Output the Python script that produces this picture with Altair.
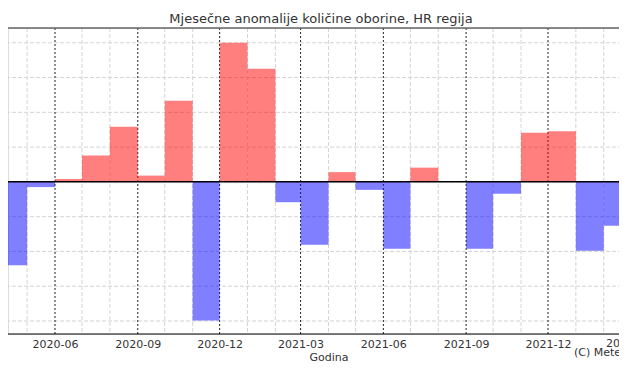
import altair as alt
import numpy as np
import pandas as pd

# Monthly precipitation anomalies (y labels are cropped in the reference)
months = ["2020-04", "2020-05", "2020-06", "2020-07", "2020-08", "2020-09", "2020-10",
          "2020-11", "2020-12", "2021-01", "2021-02", "2021-03", "2021-04", "2021-05",
          "2021-06", "2021-07", "2021-08", "2021-09", "2021-10", "2021-11", "2021-12",
          "2022-01", "2022-02"]
anomaly = [-48.0, -3.0, 1.7, 15.1, 31.7, 3.6, 46.7,
           -79.8, 80.0, 65.0, -11.7, -36.2, 5.6, -4.6,
           -38.5, 8.2, 0.0, -38.5, -6.9, 28.3, 29.1,
           -39.6, -25.3]
y_ticks = [-80, -60, -40, -20, 0, 20, 40, 60, 80]
cut_label_text = "2022-03"

title_text = "Mjesečne anomalije količine oborine, HR regija"
x_title = "Godina"
credit_text = "(C) Meteoadriatic"

starts = pd.to_datetime([m + "-01" for m in months])
ends = starts + pd.offsets.MonthBegin(1)
df = pd.DataFrame({
    "start": starts.strftime("%Y-%m-%d"),
    "end": ends.strftime("%Y-%m-%d"),
    "value": anomaly,
})
df["sign"] = np.where(df["value"] >= 0, "pos", "neg")
df["major"] = (starts.month % 3 == 0)

W, H = 611, 306
PX_PER_DAY = 0.8996
DAY = 86400000
base = pd.Timestamp("2020-06-01", tz="UTC").value // 10**6
x_start = base - 52.25 * DAY
x_domain = [x_start, x_start + (W / PX_PER_DAY) * DAY]
tick_ms = [pd.Timestamp(m + "-01", tz="UTC").value // 10**6 for m in months]

FONT = "DejaVu Sans"
GRID = "#d4d4d4"
major_test = "utcmonth(datum.value) % 3 == 2"

x_scale = alt.Scale(type="utc", domain=x_domain, nice=False)
y_scale = alt.Scale(domain=[-87.5, 88.5], nice=False, zero=False)
x_axis = alt.Axis(
    values=tick_ms, tickCount=len(tick_ms),
    labelExpr=f"{major_test} ? utcFormat(datum.value, '%Y-%m') : ''",
    ticks=False, domain=False, grid=False,
    labelFont=FONT, labelFontSize=11, labelColor="#333333", labelPadding=4,
    labelOverlap=False, labelBound=False, labelFlush=False,
    title=x_title, titleFont=FONT, titleFontSize=11, titleFontWeight="normal",
    titleColor="#333333", titlePadding=2, titleX=320.5, titleAlign="center",
)
x_enc = alt.X("start:T", scale=x_scale, axis=x_axis)

# grids, drawn as rules so they run to the page edges like the cropped reference
grid_df = pd.DataFrame({"v": y_ticks})
hgrid = alt.Chart(grid_df).mark_rule(color=GRID, strokeWidth=1, strokeDash=[4, 2]).encode(
    y=alt.Y("v:Q", scale=y_scale, axis=None), x=alt.value(-8), x2=alt.value(W + 8))
vgrid_minor = alt.Chart(df).transform_filter("!datum.major").mark_rule(
    color=GRID, strokeWidth=1, strokeDash=[4, 2]).encode(x=x_enc)
vgrid_major = alt.Chart(df).transform_filter("datum.major").mark_rule(
    color="#222222", strokeWidth=1, strokeDash=[2, 2]).encode(x=x_enc)

bars = alt.Chart(df).mark_rect(clip=False, opacity=0.5).encode(
    x=x_enc,
    x2="end:T",
    y=alt.Y("value:Q", scale=y_scale, axis=None),
    y2=alt.datum(0),
    color=alt.Color("sign:N", scale=alt.Scale(domain=["pos", "neg"], range=["#ff0000", "#0000ff"]),
                    legend=None),
)

one = pd.DataFrame({"t": [credit_text], "lab": [cut_label_text]})
zero_line = alt.Chart(one).mark_rule(color="#000000", strokeWidth=1.5).encode(
    y=alt.Y("z:Q", scale=y_scale, axis=None), x=alt.value(-8), x2=alt.value(W + 8)
).transform_calculate(z="0")
top_line = alt.Chart(one).mark_rule(color="#666666", strokeWidth=1.5).encode(
    y=alt.value(0), x=alt.value(-8), x2=alt.value(W + 8))
bottom_line = alt.Chart(one).mark_rule(color="#000000", strokeWidth=1).encode(
    y=alt.value(H), x=alt.value(-8), x2=alt.value(W + 8))
credit = alt.Chart(one).mark_text(align="left", baseline="middle", font=FONT, fontSize=11,
                                  color="#333333").encode(
    text="t:N", x=alt.value(566), y=alt.value(325))
# tick label that lies just past the right edge (cut off in the reference)
cut_label = alt.Chart(one).mark_text(align="center", baseline="top", font=FONT, fontSize=11,
                                     color="#333333").encode(
    text="lab:N", x=alt.value(W + 10), y=alt.value(H + 4))

chart = alt.layer(hgrid, vgrid_minor, vgrid_major, bars, zero_line, top_line, bottom_line,
                  credit, cut_label).properties(
    width=W, height=H,
    title=alt.TitleParams(title_text, font=FONT, fontSize=13, fontWeight="normal", color="#333333",
                          anchor="middle", dx=7.5, dy=14, offset=5, baseline="alphabetic"),
    autosize=alt.AutoSizeParams(type="none"),
    padding={"left": 0, "top": 20, "right": 0, "bottom": 30},
).configure_view(stroke=None).configure(background="white")

chart.save("out.html", embed_options={"renderer": "svg", "actions": False})
